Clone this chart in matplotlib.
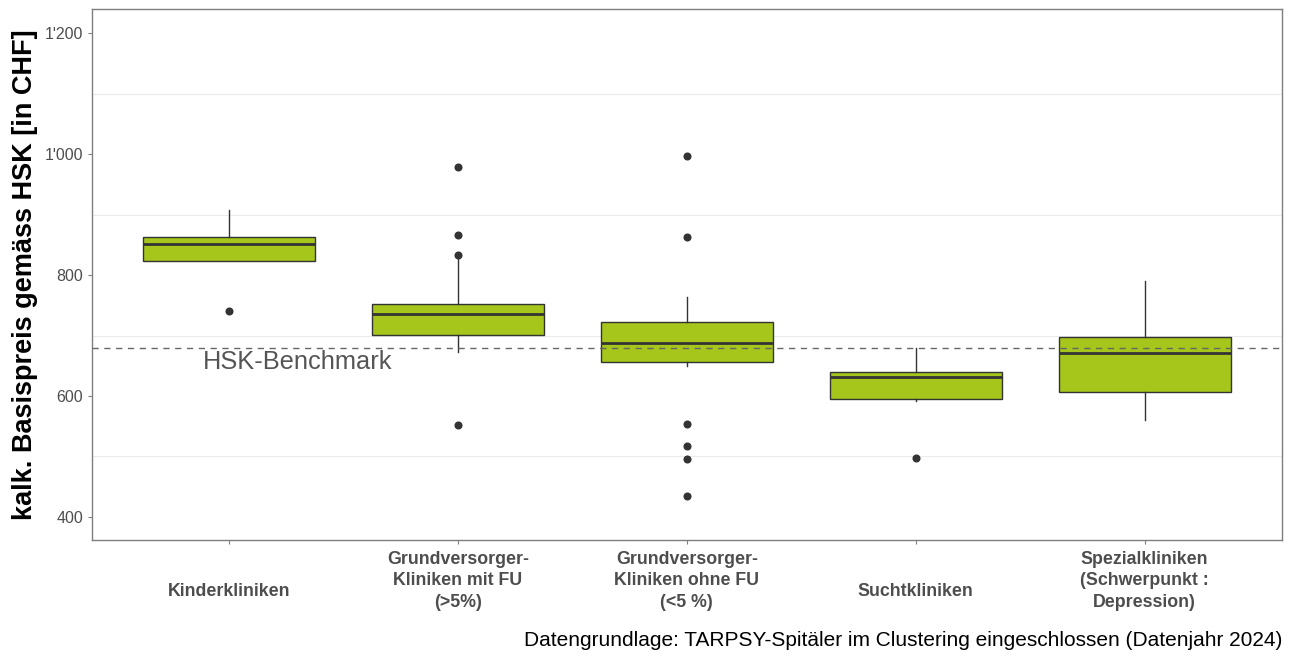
import numpy as np
import matplotlib
matplotlib.use("Agg")
import matplotlib.pyplot as plt
from matplotlib.ticker import FuncFormatter

plt.rcParams["font.family"] = ["Liberation Sans", "DejaVu Sans"]

# Boxplot statistics (CHF)
categories = ["Kinderkliniken",
              "Grundversorger-\nKliniken mit FU\n(>5%)",
              "Grundversorger-\nKliniken ohne FU\n(<5 %)",
              "Suchtkliniken",
              "Spezialkliniken\n(Schwerpunkt :\nDepression)"]
q1 = [823, 701, 656, 595, 607]
med = [851, 736, 688, 631, 671]
q3 = [863, 752, 723, 640, 697]
whislo = [823, 672, 650, 591, 560]
whishi = [907, 826, 764, 680, 790]
fliers = [[740],
          [979, 867, 834, 552],
          [998, 863, 553, 518, 495, 435],
          [497],
          []]
benchmark = 680
y_ticks = [400, 600, 800, 1000, 1200]
y_minor = [500, 700, 900, 1100]

fill = "#A6C61B"
dark = "#333333"

stats = []
for i in range(len(categories)):
    stats.append(dict(med=med[i], q1=q1[i], q3=q3[i],
                      whislo=whislo[i], whishi=whishi[i],
                      fliers=fliers[i]))

fig = plt.figure(figsize=(12.93, 6.57), dpi=100)
ax = fig.add_axes([0.0709, 0.178, 0.9206, 0.8083])

ax.bxp(stats, positions=np.arange(len(categories)), widths=0.75,
       patch_artist=True, showcaps=False,
       boxprops=dict(facecolor=fill, edgecolor=dark, linewidth=1.0),
       medianprops=dict(color=dark, linewidth=2.0),
       whiskerprops=dict(color=dark, linewidth=1.0),
       flierprops=dict(marker="o", markerfacecolor=dark, markeredgecolor=dark,
                       markersize=4.8))

ax.axhline(benchmark, color="#666666", linewidth=1.0, dashes=(4.5, 4), zorder=5)
ax.text(0.3, 645, "HSK-Benchmark", ha="center", va="baseline",
        fontsize=18.3, color="#555555")

ax.set_xlim(-0.6, len(categories) - 0.4)
ax.set_ylim(361.5, 1240.5)

ax.set_yticks(y_ticks)
ax.set_yticks(y_minor, minor=True)
ax.yaxis.set_major_formatter(FuncFormatter(lambda v, p: f"{v:,.0f}".replace(",", "'")))
ax.grid(which="minor", axis="y", color="#EBEBEB", linewidth=0.8)
ax.grid(which="major", visible=False)
ax.set_axisbelow(True)

# single line labels sit lower, like in the original
tick_text = [c if "\n" in c else "\n" + c for c in categories]
ax.set_xticks(np.arange(len(categories)))
ax.set_xticklabels(tick_text, fontweight="bold", va="center", linespacing=1.34)

ax.tick_params(axis="y", which="major", length=3.2, width=0.8, color="#7f7f7f",
               labelsize=11.5, labelcolor="#4D4D4D", pad=3)
ax.tick_params(axis="y", which="minor", length=0)
ax.tick_params(axis="x", length=3.2, width=0.8, color="#7f7f7f",
               labelsize=12.8, labelcolor="#4D4D4D", pad=26)

for s in ax.spines.values():
    s.set_color("#7f7f7f")
    s.set_linewidth(1.0)

ax.set_ylabel("kalk. Basispreis gemäss HSK [in CHF]", fontsize=19.5,
              fontweight="bold", color="black")
ax.yaxis.set_label_coords(-0.045, 0.5)

fig.text(0.9915, 1 - 646 / 657,
         "Datengrundlage: TARPSY-Spitäler im Clustering eingeschlossen (Datenjahr 2024)",
         ha="right", va="baseline", fontsize=15, color="black")

fig.savefig("out.png", dpi=100)
